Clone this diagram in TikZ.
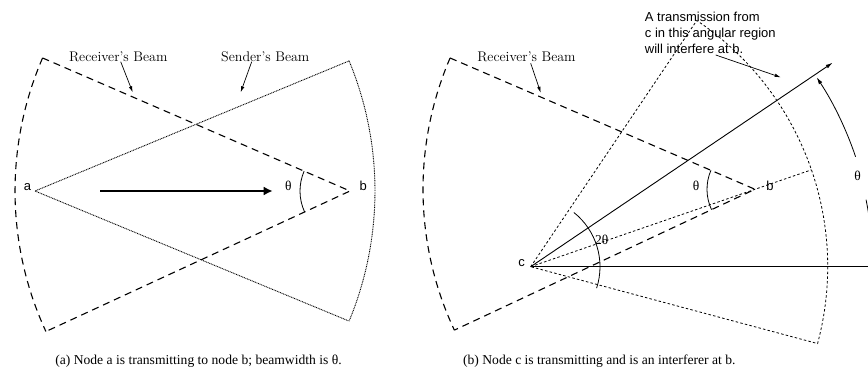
\documentclass[tikz,border=0pt]{standalone}
\usepackage{fontspec}
\newfontfamily\tnr{Liberation Serif}
\newfontfamily\hv{Liberation Sans}
\usetikzlibrary{arrows.meta}
\begin{document}
\begin{tikzpicture}[x=1pt,y=1pt,
  rbeam/.style={line width=1.1pt, dash pattern=on 7pt off 5pt},
  sbeam/.style={line width=0.9pt, dash pattern=on 0.9pt off 0.8pt},
  csector/.style={line width=0.8pt, dash pattern=on 2.5pt off 2.2pt},
  solidln/.style={line width=0.9pt},
  anglearc/.style={line width=0.8pt},
  lbl/.style={font=\fontsize{14}{17}\selectfont, inner sep=0pt, anchor=base},
  ptlbl/.style={font=\hv\fontsize{13}{15}\selectfont, inner sep=0pt, anchor=base},
  thlbl/.style={font=\tnr\fontsize{13.5}{15}\selectfont, inner sep=0pt, anchor=base},
  captext/.style={font=\tnr\fontsize{13.6}{16}\selectfont, inner sep=0pt, anchor=base},
  ptr/.style={line width=0.7pt, -{Latex[length=6pt,width=3.5pt]}},
]
\useasboundingbox (0,0) rectangle (868,370);
\clip (0,0) rectangle (868,370);

% ---------------- left panel ----------------
\coordinate (a) at (35,179);
\coordinate (b) at (350,179);
% receiver's beam (apex b)
\draw[rbeam] (b) ++(156.6:335) coordinate (rtop) -- (b) -- ++(204.8:335) coordinate (rbot);
\draw[rbeam] (rtop) arc[start angle=156.6, end angle=204.8, radius=335];
% sender's beam (apex a)
\draw[sbeam] (a) ++(22.5:340) coordinate (stop) -- (a) -- ++(-22.5:340) coordinate (sbot);
\draw[sbeam] (stop) arc[start angle=22.5, end angle=-22.5, radius=340];
% angle at b
\draw[anglearc] (b) ++(156.6:50) arc[start angle=156.6, end angle=204.8, radius=50];
% thick arrow
\coordinate (arrS) at (100,179);
\coordinate (arrE) at (272.7,179);
\draw[line width=2.7pt, -{Latex[length=9pt,width=9pt]}] (arrS) -- (arrE);
% labels
\node[ptlbl] (la) at (27.5,179.3) {a};
\node[ptlbl] (lb) at (363.3,179.3) {b};
\node[thlbl] (lth) at (288.3,179.5) {θ};
\node[lbl] (rbl) at (118.3,308.3) {Receiver's Beam};
\node[lbl] (sbl) at (265.3,308.3) {Sender's Beam};
\coordinate (rblS) at (120.7,308.3);
\coordinate (rblE) at (132.7,277.7);
\coordinate (sblS) at (251.7,308.3);
\coordinate (sblE) at (240.7,277.7);
\draw[ptr] (rblS) -- (rblE);
\draw[ptr] (sblS) -- (sblE);
\node[captext] (capa) at (198.5,6) {(a) Node a is transmitting to node b; beamwidth is θ.};

% ---------------- right panel ----------------
\coordinate (c) at (530.7,103.3);
\coordinate (b2) at (755,180.7);
% receiver's beam (apex b2)
\draw[rbeam] (b2) ++(156.7:332) coordinate (r2top) -- (b2) -- ++(205.1:332) coordinate (r2bot);
\draw[rbeam] (r2top) arc[start angle=156.7, end angle=205.1, radius=332];
% angular region of c
\draw[csector] (c) -- ++(56:297) arc[start angle=56, end angle=-15, radius=297] -- cycle;
\draw[csector] (c) -- ++(19.04:297) coordinate (cbend);
% solid lines from c
\coordinate (hEnd) at (875,103.3);
\draw[solidln] (c) -- (hEnd);
\draw[solidln, -{Latex[length=7pt,width=4pt]}] (c) -- ++(34.04:364.4) coordinate (dirEnd);
% 2theta arc
\draw[anglearc] (c) ++(51.5:69.3) arc[start angle=51.5, end angle=-18, radius=69.3];
% theta at b2
\draw[anglearc] (b2) ++(156.7:48) arc[start angle=156.7, end angle=205.1, radius=48];
% big theta arrows
\draw[anglearc, -{Latex[length=7pt,width=4pt]}] (c) ++(18.7:343) arc[start angle=18.7, end angle=33.5, radius=343];
\draw[anglearc, -{Latex[length=7pt,width=4pt]}] (c) ++(11.3:342) arc[start angle=11.3, end angle=0, radius=342];
% labels
\node[ptlbl] (lc) at (521.7,103.3) {c};
\node[ptlbl] (lb2) at (770,179) {b};
\node[thlbl] (lth2) at (696,179) {θ};
\node[thlbl] (l2th) at (601.7,125) {2θ};
\node[thlbl] (lth3) at (857.7,189) {θ};
\node[lbl] (rbl2) at (526.5,308) {Receiver's Beam};
\coordinate (rbl2S) at (530.7,306.7);
\coordinate (rbl2E) at (540.7,277.3);
\draw[ptr] (rbl2S) -- (rbl2E);
\node[font=\hv\fontsize{13}{16.2}\selectfont, inner sep=0pt, anchor=base west, align=left] (trans) at (644.7,316.5) {A transmission from\\c in this angular region\\will interfere at b.};
\coordinate (trS) at (715.7,315);
\coordinate (trE) at (780.7,292.7);
\draw[ptr] (trS) -- (trE);
\node[captext] (capb) at (599.3,6) {(b) Node c is transmitting and is an interferer at b.};
\end{tikzpicture}
\end{document}
